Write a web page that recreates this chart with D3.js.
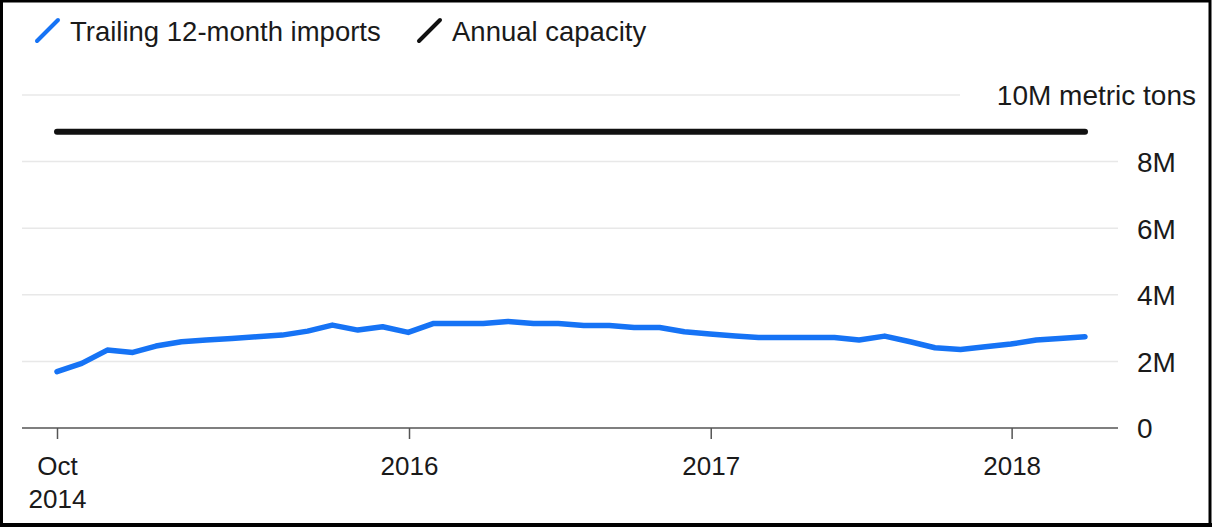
<!DOCTYPE html>
<html>
<head>
<meta charset="utf-8">
<script src="https://cdn.jsdelivr.net/npm/d3@7"></script>
<style>
  html, body { margin: 0; padding: 0; background: #fff; }
  svg { display: block; }
  text { font-family: "Liberation Sans", Arial, sans-serif; fill: #1a1a1a; }
</style>
</head>
<body>
<svg id="chart" width="1212" height="527"></svg>
<script>
// ---- data ----
const months = [
  "2014-10-31","2014-11-30","2014-12-31",
  "2015-01-31","2015-02-28","2015-03-31","2015-04-30","2015-05-31","2015-06-30",
  "2015-07-31","2015-08-31","2015-09-30","2015-10-31","2015-11-30","2015-12-31",
  "2016-01-31","2016-02-29","2016-03-31","2016-04-30","2016-05-31","2016-06-30",
  "2016-07-31","2016-08-31","2016-09-30","2016-10-31","2016-11-30","2016-12-31",
  "2017-01-31","2017-02-28","2017-03-31","2017-04-30","2017-05-31","2017-06-30",
  "2017-07-31","2017-08-31","2017-09-30","2017-10-31","2017-11-30","2017-12-31",
  "2018-01-31","2018-02-28","2018-03-31"
];
const imports = [
  1.69, 1.94, 2.34,
  2.27, 2.46, 2.59, 2.64, 2.69, 2.74,
  2.79, 2.91, 3.09, 2.94, 3.04, 2.87,
  3.14, 3.14, 3.14, 3.20, 3.14, 3.14,
  3.08, 3.08, 3.02, 3.02, 2.89, 2.82,
  2.76, 2.72, 2.72, 2.72, 2.72, 2.64,
  2.76, 2.59, 2.41, 2.36, 2.44, 2.52,
  2.64, 2.69, 2.74
];
const capacityDates = ["2014-10-31", "2018-03-31"];
const capacity = [8.9, 8.9];
const xTickDates = ["2014-10-31", "2016-01-01", "2017-01-01", "2018-01-01"];
const xTickLabels = [["Oct", "2014"], ["2016"], ["2017"], ["2018"]];
const yTicks = [0, 2, 4, 6, 8, 10];
const yTickLabels = ["0", "2M", "4M", "6M", "8M", "10M metric tons"];
const seriesNames = ["Trailing 12-month imports", "Annual capacity"];
const seriesColors = ["#1673f5", "#111111"];

// ---- chart ----
const parse = d3.utcParse("%Y-%m-%d");
const svg = d3.select("#chart");
const W = 1212, H = 527;

const x = d3.scaleUtc()
  .domain([parse(months[0]), parse(months[months.length - 1])])
  .range([57, 1085]);
const y = d3.scaleLinear().domain([0, 10]).range([428, 95]);

const plotLeft = 22, plotRight = 1118;

// frame
svg.append("rect").attr("x", 1.5).attr("y", 1).attr("width", W - 3.5).attr("height", H - 3.5)
  .attr("fill", "none").attr("stroke", "#000").attr("stroke-width", 3);
svg.append("rect").attr("x", 0).attr("y", H - 4).attr("width", W).attr("height", 4).attr("fill", "#000");

// gridlines + y labels
const yAxis = d3.axisRight(y).tickValues(yTicks)
  .tickSize(0).tickPadding(0)
  .tickFormat((d, i) => yTickLabels[i]);
const yg = svg.append("g").attr("transform", "translate(1137,0)").call(yAxis);
yg.select(".domain").remove();
yg.selectAll("text")
  .attr("x", 0).attr("dy", "0.35em")
  .style("font-size", "28px")
  .attr("text-anchor", "start")
  .style("font-family", "'Liberation Sans', Arial, sans-serif")
  .attr("fill", "#1a1a1a");
yg.selectAll(".tick").filter(d => d === 10).select("text")
  .attr("text-anchor", "end").attr("x", 1196 - 1137);

const grid = svg.append("g");
grid.selectAll("line").data(yTicks.filter(d => d > 0)).join("line")
  .attr("x1", plotLeft)
  .attr("x2", d => d === 10 ? 960 : plotRight)
  .attr("y1", d => y(d)).attr("y2", d => y(d))
  .attr("stroke", "#e8e8e8").attr("stroke-width", 1.5);

// x axis
const xAxis = d3.axisBottom(x)
  .tickValues(xTickDates.map(parse))
  .tickSize(11).tickPadding(0)
  .tickFormat("");
const xg = svg.append("g").attr("transform", "translate(0,428)").call(xAxis);
xg.select(".domain").remove();
xg.selectAll(".tick line").attr("stroke", "#555").attr("stroke-width", 1.5);
xg.selectAll(".tick").each(function(d, i) {
  const t = d3.select(this).append("text")
    .attr("text-anchor", "middle")
    .style("font-size", "26px")
    .attr("fill", "#1a1a1a");
  xTickLabels[i].forEach((s, j) => {
    t.append("tspan").attr("x", 0).attr("y", 47 + j * 33).text(s);
  });
});
svg.append("line")
  .attr("x1", plotLeft).attr("x2", plotRight)
  .attr("y1", y(0)).attr("y2", y(0))
  .attr("stroke", "#555").attr("stroke-width", 1.5);

// capacity line
const capData = capacityDates.map((d, i) => ({ date: parse(d), v: capacity[i] }));
svg.append("path")
  .datum(capData)
  .attr("d", d3.line().x(d => x(d.date)).y(d => y(d.v)))
  .attr("fill", "none").attr("stroke", seriesColors[1])
  .attr("stroke-width", 6).attr("stroke-linecap", "round");

// imports line
const impData = months.map((d, i) => ({ date: parse(d), v: imports[i] }));
svg.append("path")
  .datum(impData)
  .attr("d", d3.line().x(d => x(d.date)).y(d => y(d.v)))
  .attr("fill", "none").attr("stroke", seriesColors[0])
  .attr("stroke-width", 5.5).attr("stroke-linejoin", "round").attr("stroke-linecap", "round");

// legend
const legendX = [36, 418];
const leg = svg.append("g");
seriesNames.forEach((name, i) => {
  const g = leg.append("g").attr("transform", `translate(${legendX[i]},0)`);
  g.append("line").attr("x1", 1).attr("y1", 41).attr("x2", 22).attr("y2", 20)
    .attr("stroke", seriesColors[i]).attr("stroke-width", 4).attr("stroke-linecap", "round");
  g.append("text").attr("x", 34).attr("y", 41)
    .style("font-size", "27.5px").text(name);
});
</script>
</body>
</html>
